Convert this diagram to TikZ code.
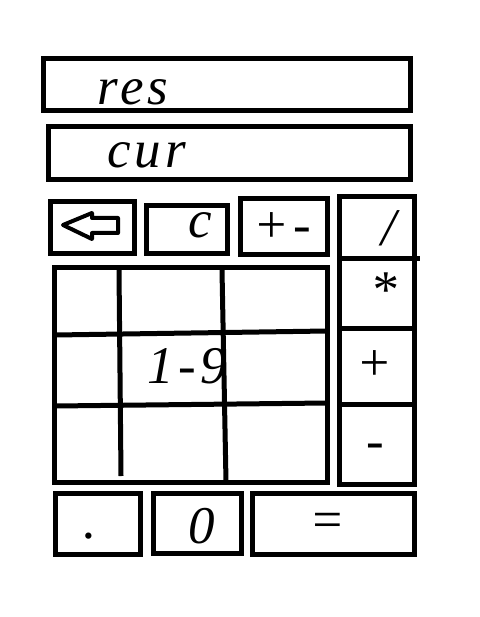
\documentclass[tikz,border=0pt]{standalone}
\usepackage{fontspec}
\setmainfont{Liberation Serif}[LetterSpace=8]
\tikzstyle{key}=[draw,line width=5pt,inner sep=0pt,outer sep=0pt]
\tikzstyle{lbl}=[font=\fontsize{53}{53}\selectfont\itshape,inner sep=0pt,anchor=base]
\tikzstyle{pen}=[line width=5pt]
\begin{document}
\begin{tikzpicture}[x=1pt,y=-1pt]
	\useasboundingbox (0,0) rectangle (479,617);
	\node[key,minimum width=367pt,minimum height=52pt] (res) at (227,84.5) {};
	\node[key,minimum width=362pt,minimum height=53pt] (cur) at (229.5,153) {};
	\node[key,minimum width=84pt,minimum height=52pt] (back) at (92.5,227.5) {};
	\node[key,minimum width=81pt,minimum height=48pt] (clr) at (187,229.5) {};
	\node[key,minimum width=87pt,minimum height=56pt] (neg) at (284,226.5) {};
	\node[key,minimum width=75pt,minimum height=61.5pt] (div) at (376.5,227.25) {};
	\node[key,minimum width=75pt,minimum height=70pt] (mul) at (376.5,293) {};
	\node[key,minimum width=75pt,minimum height=76pt] (add) at (376.5,366) {};
	\node[key,minimum width=75pt,minimum height=80.5pt] (sub) at (376.5,444.25) {};
	\node[key,minimum width=273pt,minimum height=215pt] (grid) at (191,375) {};
	\node[key,minimum width=85pt,minimum height=61pt] (dot) at (98,524) {};
	\node[key,minimum width=88pt,minimum height=60pt] (zero) at (197.5,523.5) {};
	\node[key,minimum width=162pt,minimum height=61pt] (eq) at (333.5,524) {};
	\draw[pen] (div.south east) -- ++(6,0);
	\draw[pen] (119,270) -- (121,476);
	\draw[pen] (222,270) -- (226,482);
	\draw[pen] (55,335) -- (327,331);
	\draw[pen] (55,406) -- (327,403);
	\draw[line width=4pt,line join=round] (63,225) -- (92,213) -- (92,218) -- (118,218) -- (118,233) -- (92,233) -- (92,239) -- cycle;
	\node[lbl,anchor=base west] (res-t) at (97,105) {res};
	\node[lbl,anchor=base west] (cur-t) at (107,168) {cur};
	\node[lbl] (clr-t) at (200,237) {c};
	\node[lbl] (neg-t) at (282,243) {+-};
	\node[lbl] (div-t) at (389,245) {/};
	\node[lbl] (mul-t) at (384,307) {*};
	\node[lbl] (add-t) at (374,380) {+};
	\node[lbl] (sub-t) at (375,458) {-};
	\node[lbl] (digits) at (187,383) {1-9};
	\node[lbl] (dot-t) at (90,538) {.};
	\node[lbl] (zero-t) at (202,543) {0};
	\node[lbl] (eq-t) at (327,537) {=};
\end{tikzpicture}
\end{document}
